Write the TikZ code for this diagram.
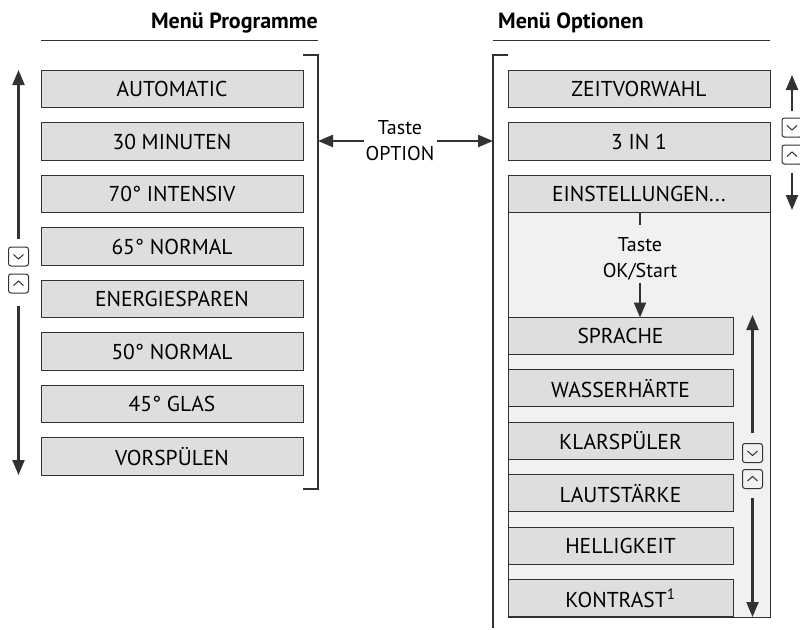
\documentclass[tikz,border=0pt]{standalone}
\usepackage{fontspec}
\setmainfont{PT Sans}
\usetikzlibrary{arrows.meta,positioning}
\definecolor{mgray}{RGB}{221,222,224}
\definecolor{mlightgray}{RGB}{240,241,243}
\definecolor{mdark}{RGB}{50,50,50}
\tikzstyle{arrow} = [line width=2.2pt,-{Triangle[length=15pt,width=12pt]},color=mdark]
\tikzstyle{menubox} = [rectangle, minimum width=262pt, minimum height=37.5pt, text centered, draw=mdark, fill=mgray, line width=1pt, inner sep=0pt, outer sep=0pt, font=\fontsize{21.5}{24}\selectfont]
\tikzstyle{subbox} = [menubox, minimum width=225pt, minimum height=37pt]
\tikzstyle{menutitle} = [inner sep=0pt, font=\fontsize{22}{26}\selectfont\bfseries]
\tikzstyle{keytext} = [align=center, inner sep=2pt, font=\fontsize{20}{26}\selectfont]
\tikzstyle{keybtn} = [rectangle, rounded corners=2.5pt, draw=mdark, line width=1pt, minimum width=20pt, minimum height=19pt, inner sep=0pt]
\tikzstyle{keydown} = [keybtn, path picture={\draw[line width=1pt, sharp corners] ([xshift=-5pt,yshift=2pt]path picture bounding box.center) -- ++(5pt,-4.5pt) -- ++(5pt,4.5pt);}]
\tikzstyle{keyup} = [keybtn, path picture={\draw[line width=1pt, sharp corners] ([xshift=-5pt,yshift=-2pt]path picture bounding box.center) -- ++(5pt,4.5pt) -- ++(5pt,-4.5pt);}]

\begin{document}
\begin{tikzpicture}[x=1pt, y=-1pt]
\useasboundingbox (0,0) rectangle (800,629);

% Titles
\node (titleL) [menutitle, anchor=base east] at (318,28) {Menü Programme};
\node (titleR) [menutitle, anchor=base west] at (498,28) {Menü Optionen};
\draw[mdark, line width=1pt] (41,40) -- (318,40);
\draw[mdark, line width=1pt] (493,40) -- (770,40);

% Menu Programme
\node (auto) [menubox] at (172,89) {AUTOMATIC};
\node (min30) [menubox, below=15pt of auto] {30 MINUTEN};
\node (int70) [menubox, below=15pt of min30] {70° INTENSIV};
\node (norm65) [menubox, below=15pt of int70] {65° NORMAL};
\node (energie) [menubox, below=15pt of norm65] {ENERGIESPAREN};
\node (norm50) [menubox, below=15pt of energie] {50° NORMAL};
\node (glas45) [menubox, below=15pt of norm50] {45° GLAS};
\node (vorsp) [menubox, below=15pt of glas45] {VORSPÜLEN};
\draw[mdark, line width=1.2pt] (303,55) -- (318,55) -- (318,489) -- (303,489);

% scroll keys left
\node (dnL) [keydown] at (18.5,256.5) {};
\node (upL) [keyup] at (18.5,283.5) {};
\coordinate (topL) at (18.5,70);
\coordinate (botL) at (18.5,475);
\draw[arrow, shorten <=8pt] (dnL) -- (topL);
\draw[arrow, shorten <=12pt] (upL) -- (botL);

% Taste OPTION
\node (option) [keytext] at (400,141) {Taste\\OPTION};
\coordinate (brL) at (318,141);
\coordinate (brR) at (493,141);
\draw[arrow] (option.west |- brL) -- (brL);
\draw[arrow] (option.east |- brR) -- (brR);

% Menu Optionen
\draw[mdark, line width=1.2pt] (508,55) -- (493,55) -- (493,628);
\node (zeit) [menubox] at (639,89) {ZEITVORWAHL};
\node (drei) [menubox, below=15pt of zeit] {3 IN 1};
\node (einst) [menubox, below=15pt of drei] {EINSTELLUNGEN...};
\draw[draw=mdark, fill=mlightgray, line width=1pt] (einst.south west) rectangle (770,617);
\draw[mdark, line width=1.5pt] (640,213) -- (640,225);
\node (okstart) [keytext] at (640,259) {Taste\\OK/Start};

\node (sprache) [subbox] at (620.5,336) {SPRACHE};
\node (wasser) [subbox, below=15.4pt of sprache] {WASSERHÄRTE};
\node (klar) [subbox, below=15.4pt of wasser] {KLARSPÜLER};
\node (laut) [subbox, below=15.4pt of klar] {LAUTSTÄRKE};
\node (hell) [subbox, below=15.4pt of laut] {HELLIGKEIT};
\node (kontrast) [subbox, below=15.4pt of hell] {KONTRAST\textsuperscript{1}};
\draw[arrow] (okstart) -- (okstart |- sprache.north);

% scroll keys right
\node (dnR) [keydown] at (792,127.5) {};
\node (upR) [keyup] at (792,154.5) {};
\coordinate (topR) at (792,75);
\coordinate (botR) at (792,210);
\draw[arrow, shorten <=7pt] (dnR) -- (topR);
\draw[arrow, shorten <=8pt] (upR) -- (botR);

\node (dnS) [keydown] at (752.5,453) {};
\node (upS) [keyup] at (752.5,479) {};
\coordinate (topS) at (752.5,315);
\coordinate (botS) at (752.5,617);
\draw[arrow, shorten <=10pt] (dnS) -- (topS);
\draw[arrow, shorten <=9pt] (upS) -- (botS);
\end{tikzpicture}
\end{document}
